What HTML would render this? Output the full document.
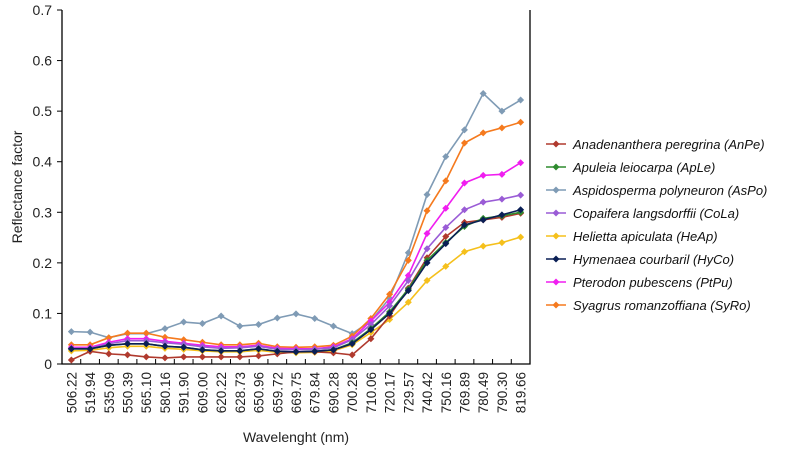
<!DOCTYPE html>
<html><head><meta charset="utf-8"><style>
body{margin:0;background:#fff;font-family:"Liberation Sans",Arial,sans-serif}
</style></head><body>
<svg id="c" width="792" height="450" font-family="Liberation Sans, Arial, sans-serif"></svg>
<script>
const categories=["506.22","519.94","535.09","550.39","565.10","580.16","591.90","609.00","620.22","628.73","650.96","659.72","669.75","679.84","690.28","700.28","710.06","720.17","729.57","740.42","750.16","769.89","780.49","790.30","819.66"];
const yTicks=[0,0.1,0.2,0.3,0.4,0.5,0.6,0.7];
const seriesNames=["Anadenanthera peregrina (AnPe)","Apuleia leiocarpa (ApLe)","Aspidosperma polyneuron (AsPo)","Copaifera langsdorffii (CoLa)","Helietta apiculata (HeAp)","Hymenaea courbaril (HyCo)","Pterodon pubescens (PtPu)","Syagrus romanzoffiana (SyRo)"];
const anpe=[0.008,0.025,0.020,0.018,0.014,0.012,0.014,0.014,0.014,0.014,0.016,0.020,0.024,0.024,0.022,0.018,0.050,0.095,0.150,0.210,0.252,0.280,0.285,0.290,0.298];
const aple=[0.030,0.030,0.037,0.040,0.040,0.035,0.033,0.028,0.026,0.026,0.030,0.025,0.024,0.025,0.028,0.042,0.070,0.103,0.148,0.205,0.240,0.272,0.288,0.293,0.300];
const aspo=[0.064,0.063,0.052,0.060,0.060,0.070,0.083,0.080,0.095,0.075,0.078,0.091,0.099,0.090,0.075,0.060,0.085,0.130,0.220,0.335,0.410,0.463,0.535,0.500,0.522];
const cola=[0.031,0.031,0.040,0.046,0.046,0.042,0.039,0.034,0.031,0.032,0.035,0.029,0.028,0.029,0.032,0.048,0.078,0.115,0.165,0.228,0.270,0.305,0.320,0.326,0.334];
const heap=[0.026,0.027,0.032,0.035,0.035,0.031,0.029,0.026,0.024,0.024,0.027,0.023,0.022,0.023,0.026,0.038,0.062,0.088,0.122,0.165,0.193,0.222,0.233,0.240,0.251];
const hyco=[0.030,0.030,0.037,0.040,0.040,0.035,0.033,0.028,0.026,0.026,0.030,0.025,0.024,0.025,0.028,0.040,0.068,0.100,0.145,0.200,0.238,0.275,0.285,0.295,0.305];
const ptpu=[0.033,0.033,0.043,0.050,0.050,0.045,0.041,0.037,0.034,0.034,0.037,0.031,0.030,0.030,0.034,0.050,0.085,0.122,0.175,0.258,0.308,0.358,0.373,0.375,0.398];
const syro=[0.038,0.038,0.052,0.061,0.061,0.053,0.048,0.043,0.038,0.038,0.041,0.034,0.033,0.034,0.037,0.055,0.090,0.138,0.205,0.303,0.362,0.437,0.457,0.467,0.478];
const seriesValues=[anpe,aple,aspo,cola,heap,hyco,ptpu,syro];
const colors=["#b03a2e","#2e8b2e","#7f9bb5","#9a5cd6","#f5c01c","#0a1f55","#f01ef0","#f57a1e"];
const drawOrder=[2,7,6,3,4,0,1,5];
const L=62,R=530,T=10,B=364,ymax=0.7;
const bw=(R-L)/categories.length;
const x=i=>L+bw*(i+0.5);
const y=v=>B-(v/ymax)*(B-T);
const svg=document.getElementById('c');
const NS="http://www.w3.org/2000/svg";
function mk(t,a,p){const e=document.createElementNS(NS,t);for(const k in a)e.setAttribute(k,a[k]);(p||svg).appendChild(e);return e;}
const ax=mk('path',{d:`M${L} ${T}V${B}H${R}V${T}`,fill:'none',stroke:'#000','stroke-width':1.3});

yTicks.forEach(v=>{
  const tk=mk('line',{x1:L-5,x2:L,y1:y(v),y2:y(v),stroke:'#000'});
  
  const t=mk('text',{x:L-10,y:y(v)+5,'text-anchor':'end','font-size':14,fill:'#222'});
  t.textContent=v===0?'0':v.toFixed(1);
  
});
categories.forEach((c,i)=>{
  const tk=mk('line',{x1:L+bw*i,x2:L+bw*i,y1:B-5,y2:B,stroke:'#000'});
  
  const t=mk('text',{transform:`translate(${x(i)+5},${B+8}) rotate(-90)`,'text-anchor':'end','font-size':13.5,fill:'#222'});
  t.textContent=c;
  
});
const yt=mk('text',{transform:'translate(22,187) rotate(-90)','text-anchor':'middle','font-size':14,fill:'#222'});
yt.textContent='Reflectance factor';

const xt=mk('text',{x:296,y:442,'text-anchor':'middle','font-size':14,fill:'#222'});
xt.textContent='Wavelenght (nm)';

function marker(cx,cy,col,p){return mk('path',{d:`M${cx} ${cy-3.5}L${cx+3.5} ${cy}L${cx} ${cy+3.5}L${cx-3.5} ${cy}Z`,fill:col},p);}
drawOrder.forEach(s=>{
  const g=mk('g',{});
  
  
  const vals=seriesValues[s];
  mk('polyline',{points:vals.map((v,i)=>x(i)+','+y(v)).join(' '),fill:'none',stroke:colors[s],'stroke-width':1.6},g);
  vals.forEach((v,i)=>{const m=marker(x(i),y(v),colors[s],g);
    });
});
const lg=mk('g',{});

seriesNames.forEach((n,s)=>{
  const yy=144+s*23;
  const e=mk('g',{},lg);
  
  mk('line',{x1:546,x2:566,y1:yy,y2:yy,stroke:colors[s],'stroke-width':1.6},e);
  marker(556,yy,colors[s],e);
  const t=mk('text',{x:573,y:yy+5,'font-size':13,'font-style':'italic',fill:'#111'},e);
  t.textContent=n;
});
</script>
</body></html>
